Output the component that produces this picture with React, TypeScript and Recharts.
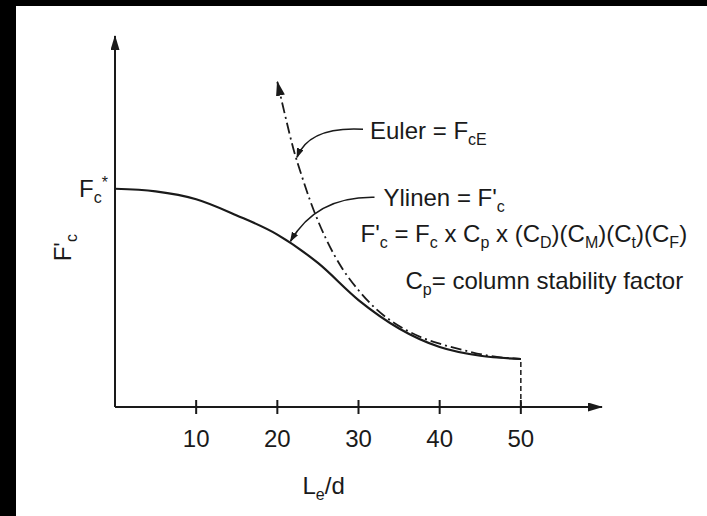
import React from "react";
import { LineChart, Line, XAxis, YAxis, ReferenceLine, ReferenceDot } from "recharts";

// slenderness ratio Le/d vs allowable compression stress (relative to Fc* = 1)
const ylinenX = [0, 5, 10, 15, 20, 25, 30, 35, 40, 45, 50];
const ylinenY = [1.0, 0.988, 0.952, 0.878, 0.79, 0.66, 0.49, 0.36, 0.275, 0.235, 0.22];

const eulerX = [20, 21, 22, 23, 24, 26, 28, 30, 32, 34, 36, 38, 40, 43, 46, 50];
const eulerY = [1.49, 1.33, 1.18, 1.06, 0.95, 0.77, 0.635, 0.535, 0.455, 0.395, 0.35, 0.315, 0.29, 0.26, 0.235, 0.22];

const xTicks = [10, 20, 30, 40, 50];

const ylinenData = ylinenX.map((x, i) => ({ x, y: ylinenY[i] }));
const eulerData = eulerX.map((x, i) => ({ x, y: eulerY[i] }));

const INK = "#1a1a1a";
const FONT = "'Liberation Sans', Arial, Helvetica, sans-serif";
const FS = 24;
const SFS = 16;

type Part = [string, number]; // 0 normal, 1 subscript, -1 superscript

function rich(parts: Part[]) {
  let cur = 0;
  return parts.map(([t, s], i) => {
    const shift = s === 1 ? 6 : s === -1 ? -9 : 0;
    const dy = shift - cur;
    cur = shift;
    return (
      <tspan key={i} dy={dy} fontSize={s === 0 ? FS : SFS}>
        {t}
      </tspan>
    );
  });
}

const txt = { fontFamily: FONT, fontSize: FS, fill: INK, style: { whiteSpace: "pre" as const } };

const XTick = (props: any) => {
  const { x, y, payload } = props;
  return (
    <g>
      <line x1={x} x2={x} y1={y - 15} y2={y - 1} stroke={INK} strokeWidth={2} />
      <text x={x} y={y + 32} textAnchor="middle" {...txt}>
        {payload.value}
      </text>
    </g>
  );
};

const EulerNote = ({ cx, cy }: any) => (
  <g>
    <path
      d={`M${cx + 67},${cy - 29} Q${cx + 13},${cy - 32} ${cx + 1},${cy - 1}`}
      fill="none"
      stroke={INK}
      strokeWidth={1.6}
      markerEnd="url(#leadHead)"
    />
    <text x={cx + 74} y={cy - 19} {...txt}>
      {rich([["Euler = F", 0], ["cE", 1]])}
    </text>
  </g>
);

const YlinenNote = ({ cx, cy }: any) => (
  <g>
    <path
      d={`M${cx + 85},${cy - 45} Q${cx + 27},${cy - 46} ${cx + 1},${cy - 1}`}
      fill="none"
      stroke={INK}
      strokeWidth={1.6}
      markerEnd="url(#leadHead)"
    />
    <text x={cx + 94} y={cy - 36} {...txt}>
      {rich([["Ylinen = F'", 0], ["c", 1]])}
    </text>
    <text x={cx + 71} y={cy} {...txt}>
      {rich([
        ["F'", 0], ["c", 1], [" = F", 0], ["c", 1], [" x C", 0], ["p", 1],
        [" x (C", 0], ["D", 1], [")(C", 0], ["M", 1], [")(C", 0], ["t", 1],
        [")(C", 0], ["F", 1], [")", 0],
      ])}
    </text>
    <text x={cx + 116} y={cy + 47} {...txt}>
      {rich([["C", 0], ["p", 1], ["= column stability factor", 0]])}
    </text>
  </g>
);

const FcStar = ({ cx, cy }: any) => (
  <text x={cx - 36} y={cy + 8} {...txt}>
    {rich([["F", 0], ["c", 1], ["*", -1]])}
  </text>
);

const YTitle = ({ cx, cy }: any) => (
  <text transform={`translate(${cx - 44},${cy}) rotate(-90)`} textAnchor="middle" {...txt}>
    {rich([["F'", 0], ["c", 1]])}
  </text>
);

const XTitle = ({ cx, cy }: any) => (
  <text x={cx} y={cy + 87} textAnchor="middle" {...txt}>
    {rich([["L", 0], ["e", 1], ["/d", 0]])}
  </text>
);

export default function App() {
  return (
    <div style={{ position: "relative", width: 707, height: 516, background: "#fff", overflow: "hidden" }}>
      <style>{"body{margin:0}"}</style>
      <div style={{ position: "absolute", left: 0, top: 0, width: 16, height: 516, background: "#000" }} />
      <div style={{ position: "absolute", left: 0, top: 0, width: 707, height: 6, background: "#000" }} />
      <svg width={0} height={0} style={{ position: "absolute" }}>
        <defs>
          <marker
            id="axisHead"
            viewBox="0 0 15 9"
            refX={14}
            refY={4.5}
            markerWidth={15}
            markerHeight={9}
            markerUnits="userSpaceOnUse"
            orient="auto-start-reverse"
          >
            <path d="M0,0 L15,4.5 L0,9 Z" fill={INK} />
          </marker>
          <marker
            id="leadHead"
            viewBox="0 0 10 7"
            refX={9}
            refY={3.5}
            markerWidth={10}
            markerHeight={7}
            markerUnits="userSpaceOnUse"
            orient="auto"
          >
            <path d="M0,0 L10,3.5 L0,7 Z" fill={INK} />
          </marker>
        </defs>
      </svg>
      <div style={{ position: "absolute", left: 0, top: 0 }}>
        <LineChart width={707} height={516} margin={{ top: 36, right: 105, bottom: 49, left: 55 }}>
          <XAxis
            type="number"
            dataKey="x"
            domain={[0, 60]}
            ticks={xTicks}
            interval={0}
            allowDataOverflow
            height={60}
            tickSize={6}
            tickMargin={2}
            tickLine={false}
            tick={<XTick />}
            axisLine={{ stroke: INK, strokeWidth: 2, markerEnd: "url(#axisHead)" }}
          />
          <YAxis
            type="number"
            domain={[0, 1.7]}
            allowDataOverflow
            width={60}
            tick={false}
            tickLine={false}
            axisLine={{ stroke: INK, strokeWidth: 2, markerStart: "url(#axisHead)" }}
          />
          <ReferenceLine
            segment={[{ x: 50, y: 0 }, { x: 50, y: 0.22 }]}
            stroke={INK}
            strokeWidth={1.5}
            strokeDasharray="5 3"
          />
          <Line
            data={ylinenData}
            dataKey="y"
            type="monotone"
            stroke={INK}
            strokeWidth={2.2}
            dot={false}
            activeDot={false}
            isAnimationActive={false}
          />
          <Line
            data={eulerData}
            dataKey="y"
            type="monotone"
            stroke={INK}
            strokeWidth={1.8}
            strokeDasharray="11 4 2 4"
            markerStart="url(#axisHead)"
            dot={false}
            activeDot={false}
            isAnimationActive={false}
          />
          <ReferenceDot x={22.3} y={1.14} r={0} shape={EulerNote} />
          <ReferenceDot x={21.5} y={0.755} r={0} shape={YlinenNote} />
          <ReferenceDot x={0} y={1} r={0} shape={FcStar} />
          <ReferenceDot x={0} y={0.73} r={0} shape={YTitle} />
          <ReferenceDot x={25.7} y={0} r={0} shape={XTitle} />
        </LineChart>
      </div>
    </div>
  );
}
